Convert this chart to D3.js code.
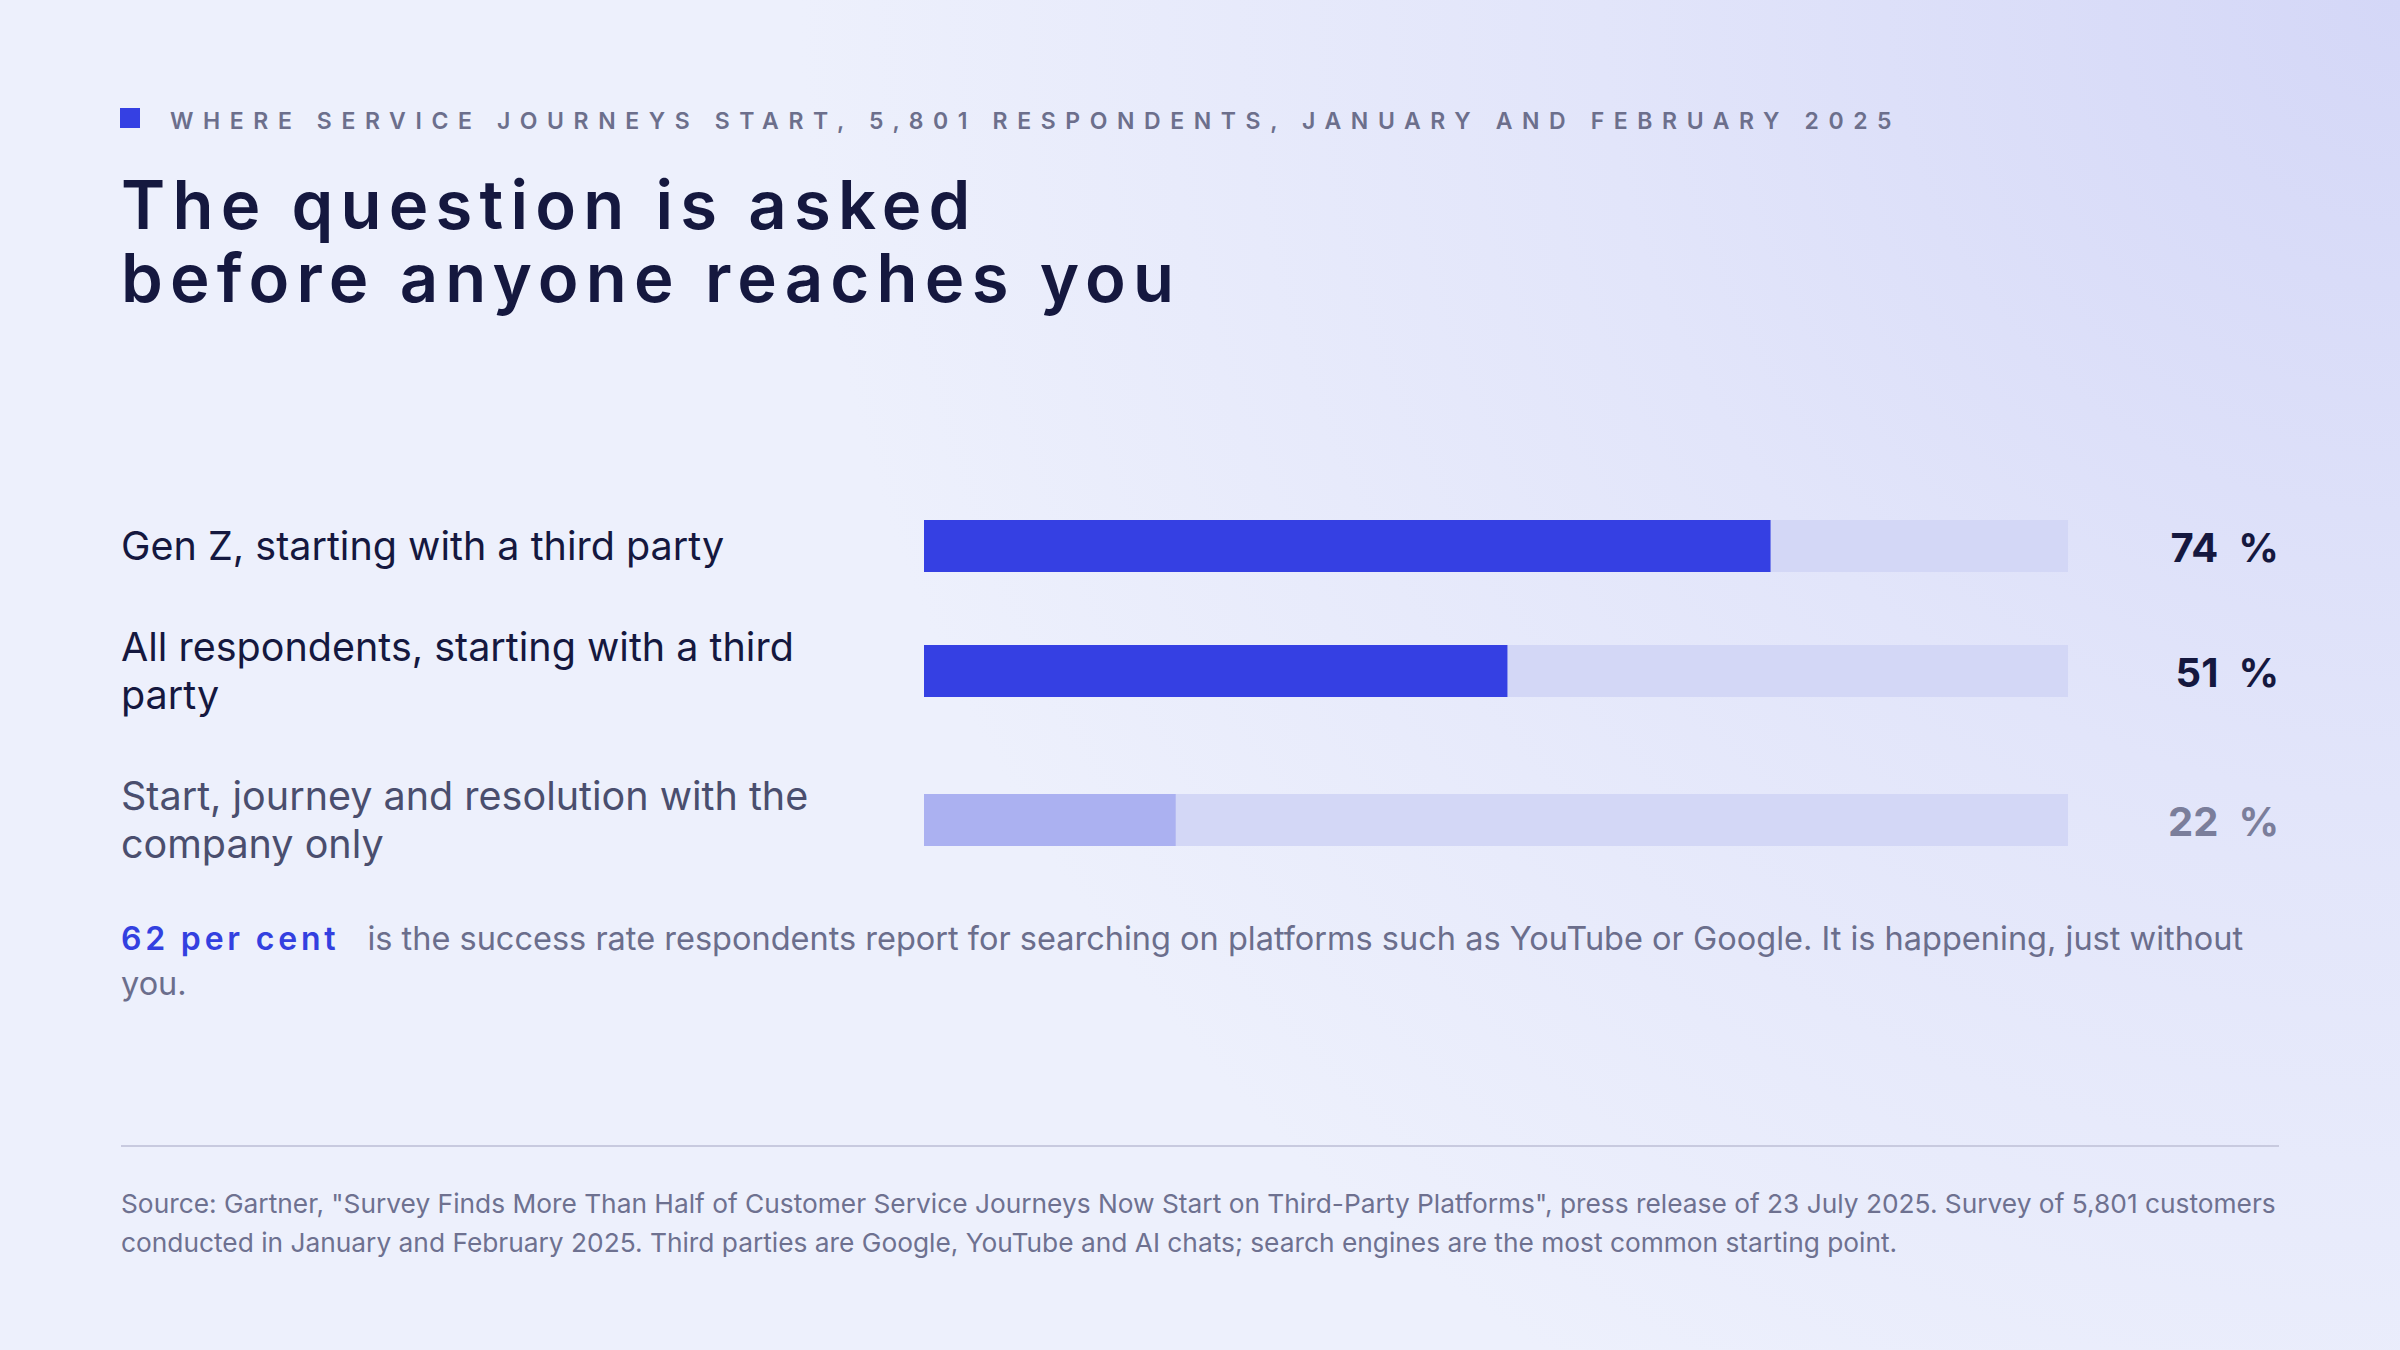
<!DOCTYPE html>
<html>
<head>
<meta charset="utf-8">
<script src="https://cdn.jsdelivr.net/npm/d3@7"></script>
<style>
  html, body { margin: 0; padding: 0; background: #edf0fc; }
  svg { display: block; }
</style>
</head>
<body>
<div class="canva"></div>
<script>
// data
const categories = [
  "Gen Z, starting with a third party",
  "All respondents, starting with a third party",
  "Start, journey and resolution with the company only"
];
const values = [74, 51, 22];
const groups = ["third party", "third party", "company only"];

const kicker = "WHERE SERVICE JOURNEYS START, 5,801 RESPONDENTS, JANUARY AND FEBRUARY 2025";
const titleLines = ["The question is asked", "before anyone reaches you"];
const calloutLead = "62 per cent";
const calloutText = "is the success rate respondents report for searching on platforms such as YouTube or Google. It is happening, just without you.";
const sourceText = "Source: Gartner, \"Survey Finds More Than Half of Customer Service Journeys Now Start on Third-Party Platforms\", press release of 23 July 2025. Survey of 5,801 customers conducted in January and February 2025. Third parties are Google, YouTube and AI chats; search engines are the most common starting point.";

const W = 2400, H = 1350;
const left = 121, right = 2279;
const font = "Inter, 'Noto Sans', sans-serif";

const svg = d3.select(".canva").append("svg")
  .attr("width", W)
  .attr("height", H);

// background
const defs = svg.append("defs");
const bg = defs.append("radialGradient")
  .attr("id", "bg")
  .attr("gradientUnits", "userSpaceOnUse")
  .attr("cx", W).attr("cy", 0).attr("r", 1600);
bg.append("stop").attr("offset", 0).attr("stop-color", "#d4d7f7");
bg.append("stop").attr("offset", 0.5).attr("stop-color", "#e2e5fa");
bg.append("stop").attr("offset", 1).attr("stop-color", "#edf0fc");

svg.append("rect").attr("width", W).attr("height", H).attr("fill", "url(#bg)");

// kicker
svg.append("rect")
  .attr("x", 120).attr("y", 108)
  .attr("width", 20).attr("height", 20)
  .attr("fill", "#3540e3");

svg.append("text")
  .text(kicker)
  .attr("x", 170).attr("y", 129)
  .attr("font-family", font)
  .attr("font-size", 23)
  .attr("font-weight", 600)
  .attr("letter-spacing", 9.6)
  .attr("fill", "#6c6f8c");

// title
svg.append("text")
  .attr("font-family", font)
  .attr("font-size", 67)
  .attr("font-weight", 600)
  .attr("letter-spacing", 7.2)
  .attr("fill", "#15183f")
  .selectAll("tspan")
  .data(titleLines)
  .join("tspan")
  .attr("x", left)
  .attr("y", (d, i) => 229 + i * 73)
  .text(d => d);

// helper: split words into lines that fit a width
const measure = svg.append("text").attr("font-family", font).attr("visibility", "hidden");
function wrap(text, width, size, weight, firstOffset) {
  measure.attr("font-size", size).attr("font-weight", weight || 400);
  const words = text.split(" ");
  const lines = [];
  let line = [];
  for (const w of words) {
    const test = line.concat(w).join(" ");
    measure.text(test);
    const room = lines.length === 0 ? width - (firstOffset || 0) : width;
    if (measure.node().getComputedTextLength() > room && line.length) {
      lines.push(line.join(" "));
      line = [w];
    } else {
      line.push(w);
    }
  }
  lines.push(line.join(" "));
  return lines;
}

// bars
const x = d3.scaleLinear().domain([0, 100]).range([924, 2068]);
const fill = d3.scaleOrdinal().domain(["third party", "company only"]).range(["#3540e3", "#abb1f1"]);
const labelColor = d3.scaleOrdinal().domain(["third party", "company only"]).range(["#15183f", "#4a4e6e"]);
const valueColor = d3.scaleOrdinal().domain(["third party", "company only"]).range(["#15183f", "#7b7e9b"]);

const labelSize = 39.5, lineH = 48, rowGap = 53, barH = 52;
let rowTop = 522;
const rows = categories.map((c, i) => {
  const lines = wrap(c, 740, labelSize, 400);
  const r = { label: c, lines, value: values[i], group: groups[i], top: rowTop };
  r.center = rowTop + lines.length * lineH / 2;
  rowTop += lines.length * lineH + rowGap;
  return r;
});

const row = svg.selectAll("g.row")
  .data(rows)
  .join("g")
  .attr("class", "row");

row.append("text")
  .attr("font-family", font)
  .attr("font-size", labelSize)
  .attr("fill", d => labelColor(d.group))
  .selectAll("tspan")
  .data(d => d.lines.map((l, j) => ({ l, y: d.top + 38 + j * lineH })))
  .join("tspan")
  .attr("x", left)
  .attr("y", d => d.y)
  .text(d => d.l);

row.append("rect")
  .attr("x", x(0))
  .attr("y", d => d.center - barH / 2)
  .attr("width", x(100) - x(0))
  .attr("height", barH)
  .attr("fill", "#d3d7f6");

row.append("rect")
  .attr("x", x(0))
  .attr("y", d => d.center - barH / 2)
  .attr("width", d => x(d.value) - x(0))
  .attr("height", barH)
  .attr("fill", d => fill(d.group));

row.append("text")
  .text(d => d.value + "\u2002%")
  .attr("x", right)
  .attr("y", d => d.center + 16)
  .attr("text-anchor", "end")
  .attr("font-family", font)
  .attr("font-size", 40)
  .attr("font-weight", 700)
  .attr("fill", d => valueColor(d.group));

// callout
const lead = svg.append("text")
  .text(calloutLead)
  .attr("x", left).attr("y", 950)
  .attr("font-family", font)
  .attr("font-size", 32)
  .attr("font-weight", 600)
  .attr("letter-spacing", 3.8)
  .attr("fill", "#3340e0");
const leadW = lead.node().getComputedTextLength() + 28;

const cLines = wrap(calloutText, right - left, 32.5, 400, leadW);
svg.append("text")
  .attr("font-family", font)
  .attr("font-size", 32.5)
  .attr("fill", "#6b6e8c")
  .selectAll("tspan")
  .data(cLines)
  .join("tspan")
  .attr("x", (d, i) => i === 0 ? left + leadW : left)
  .attr("y", (d, i) => 950 + i * 45)
  .text(d => d);

// rule
svg.append("line")
  .attr("x1", left).attr("x2", right)
  .attr("y1", 1146).attr("y2", 1146)
  .attr("stroke", "#c8cadf")
  .attr("stroke-width", 2);

// source
const sLines = wrap(sourceText, right - left + 8, 26.3, 400);
svg.append("text")
  .attr("font-family", font)
  .attr("font-size", 26.3)
  .attr("fill", "#6e7190")
  .selectAll("tspan")
  .data(sLines)
  .join("tspan")
  .attr("x", left)
  .attr("y", (d, i) => 1213 + i * 39)
  .text(d => d);
</script>
</body>
</html>
